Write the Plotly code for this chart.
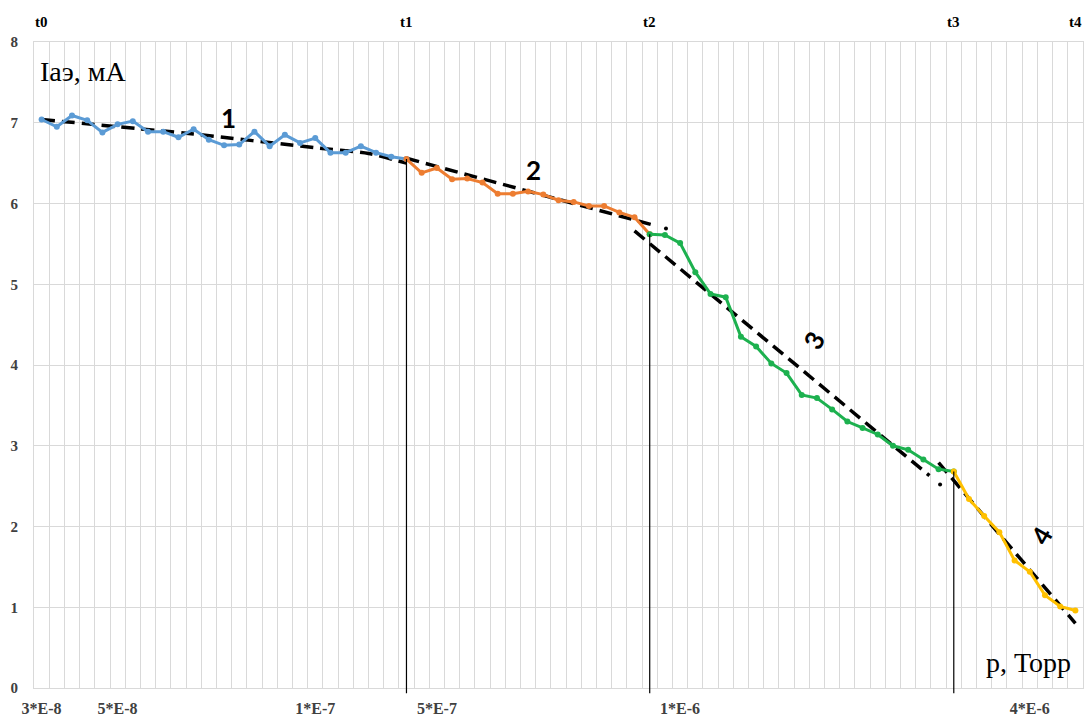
import plotly.graph_objects as go

# ---------------- data ----------------
blue_x = list(range(0, 25))
blue_y = [7.04, 6.95, 7.09, 7.03, 6.88, 6.98, 7.02, 6.89, 6.89, 6.82, 6.92, 6.79,
          6.72, 6.73, 6.89, 6.71, 6.85, 6.75, 6.81, 6.63, 6.63, 6.71, 6.63, 6.58, 6.55]

orange_x = list(range(24, 41))
orange_y = [6.55, 6.38, 6.44, 6.30, 6.31, 6.26, 6.12, 6.12, 6.15, 6.11, 6.04, 6.02,
            5.97, 5.97, 5.89, 5.83, 5.62]

green_x = list(range(40, 61))
green_y = [5.62, 5.61, 5.51, 5.15, 4.88, 4.84, 4.35, 4.23, 4.02, 3.90, 3.63, 3.59,
           3.45, 3.30, 3.22, 3.14, 3.00, 2.95, 2.83, 2.71, 2.68]

yellow_x = list(range(60, 69))
yellow_y = [2.68, 2.34, 2.13, 1.93, 1.58, 1.44, 1.15, 1.01, 0.96]

# dashed trend lines
trend1_x = [0, 10, 18, 21.5, 24]
trend1_y = [7.04, 6.86, 6.69, 6.62, 6.50]
trend2_x = [24, 40.1]
trend2_y = [6.56, 5.74]
trend2_dot = (41.07, 5.69)
trend3_x = [39.0, 58.4]
trend3_y = [5.66, 2.63]
trend3_dot = (59.1, 2.52)
trend4_x = [59.0, 68.0]
trend4_y = [2.79, 0.80]

# segment boundaries
t_labels = ["t0", "t1", "t2", "t3", "t4"]
t_index = [0, 24, 40, 60, 68]
t_values = [7.04, 6.55, 5.62, 2.68, 0.96]

segment_labels = ["1", "2", "3", "4"]
segment_label_x = [12.3, 32.35, 50.8, 65.8]
segment_label_y = [7.06, 6.42, 4.31, 1.89]
segment_label_angle = [0, 0, -60, -60]

x_tick_text = ["3*E-8", "5*E-8", "1*E-7", "5*E-7", "1*E-6", "4*E-6"]
x_tick_pos = [0, 5, 18, 26, 42, 65]

N_CAT = 69
Y_MAX = 8

# ---------------- figure ----------------
fig = go.Figure()

dash_style = "13px,7px"
for tx, ty in [(trend1_x, trend1_y), (trend2_x, trend2_y),
               (trend3_x, trend3_y), (trend4_x, trend4_y)]:
    fig.add_trace(go.Scatter(x=tx, y=ty, mode="lines",
                             line=dict(color="black", width=3.5, dash=dash_style,
                                       shape="spline", smoothing=0.6),
                             hoverinfo="skip", showlegend=False))
for dx, dy in [trend2_dot, trend3_dot]:
    fig.add_trace(go.Scatter(x=[dx], y=[dy], mode="markers",
                             marker=dict(color="black", size=4),
                             hoverinfo="skip", showlegend=False))

series = [(blue_x, blue_y, "#5B9BD5"),
          (orange_x, orange_y, "#ED7D31"),
          (green_x, green_y, "#1DB14F"),
          (yellow_x, yellow_y, "#FFC000")]
for sx, sy, col in series:
    fig.add_trace(go.Scatter(x=sx, y=sy, mode="lines+markers",
                             line=dict(color=col, width=3),
                             marker=dict(color=col, size=6),
                             showlegend=False))

# vertical boundary lines t1..t3
shapes = []
for i in range(1, 4):
    shapes.append(dict(type="line", xref="x", yref="paper",
                       x0=t_index[i], x1=t_index[i],
                       y0=-0.008, y1=t_values[i] / Y_MAX,
                       line=dict(color="black", width=1.2)))

annotations = []
for lab, xi in zip(t_labels, t_index):
    annotations.append(dict(x=xi, y=1, xref="x", yref="paper", text=lab,
                            showarrow=False, yshift=20, yanchor="middle",
                            font=dict(family="Liberation Serif", size=15,
                                      color="black", weight="bold")))
for lab, lx, ly, ang in zip(segment_labels, segment_label_x,
                            segment_label_y, segment_label_angle):
    annotations.append(dict(x=lx, y=ly, xref="x", yref="y", text=lab,
                            showarrow=False, textangle=ang,
                            font=dict(family="Lato", size=26,
                                      color="black", weight="bold")))
annotations.append(dict(x=0.004, y=0.955, xref="paper", yref="paper",
                        text="Iаэ, мА", showarrow=False,
                        xanchor="left", yanchor="middle",
                        font=dict(family="Liberation Serif", size=28, color="black")))
annotations.append(dict(x=0.99, y=0.04, xref="paper", yref="paper",
                        text="p, Торр", showarrow=False,
                        xanchor="right", yanchor="middle",
                        font=dict(family="Liberation Serif", size=28, color="black")))

grid_col = "#D9D9D9"
fig.update_layout(
    width=1087, height=720,
    margin=dict(l=34, r=3, t=42, b=28),
    paper_bgcolor="white", plot_bgcolor="white",
    shapes=shapes, annotations=annotations,
    xaxis=dict(range=[-0.5, N_CAT - 0.5], showgrid=False, zeroline=False,
               tickmode="array", tickvals=x_tick_pos, ticktext=x_tick_text,
               ticks="", ticklabelstandoff=6,
               tickfont=dict(family="Liberation Serif", size=16,
                             color="#404040", weight="bold"),
               showline=True, linecolor=grid_col, linewidth=1, mirror=True,
               minor=dict(tickmode="linear", tick0=0.5, dtick=1, showgrid=True,
                          gridcolor=grid_col, gridwidth=1)),
    yaxis=dict(range=[0, Y_MAX], dtick=1, showgrid=True, gridcolor=grid_col,
               gridwidth=1, zeroline=False, ticks="", ticklabelstandoff=12,
               tickfont=dict(family="Liberation Serif", size=15,
                             color="#404040", weight="bold"),
               showline=True, linecolor=grid_col, linewidth=1, mirror=True),
)

fig.write_html("out.html", config={"displayModeBar": False})
with open("out.html", "r", encoding="utf-8") as f:
    html = f.read()
html = html.replace("<head>", "<head><style>body{margin:0;}</style>", 1)
with open("out.html", "w", encoding="utf-8") as f:
    f.write(html)
